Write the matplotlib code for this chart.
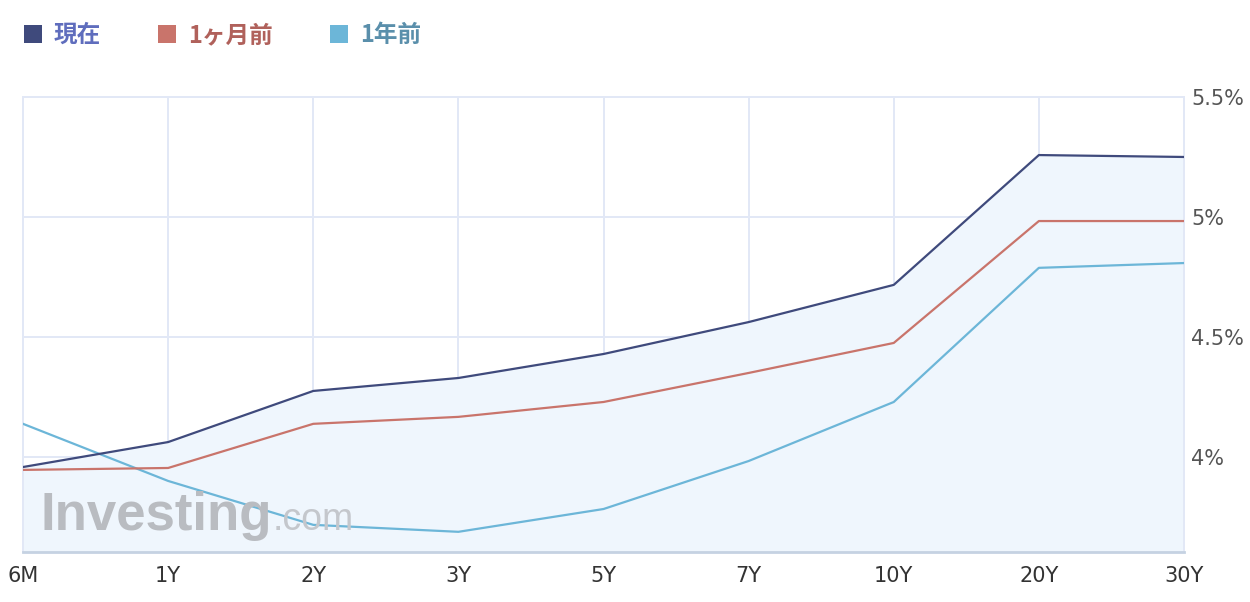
import matplotlib
matplotlib.use("Agg")
import matplotlib.pyplot as plt
from matplotlib.patches import Patch

plt.rcParams['font.family'] = ['Noto Sans CJK JP', 'DejaVu Sans']

# yield curve data (%)
maturities = ['6M', '1Y', '2Y', '3Y', '5Y', '7Y', '10Y', '20Y', '30Y']
now = [3.958, 4.062, 4.275, 4.329, 4.429, 4.562, 4.717, 5.258, 5.250]
month_ago = [3.946, 3.954, 4.138, 4.167, 4.229, 4.350, 4.475, 4.983, 4.983]
year_ago = [4.138, 3.900, 3.717, 3.688, 3.783, 3.983, 4.229, 4.788, 4.808]

series_names = ['現在', '1ヶ月前', '1年前']
line_colors = ['#3f4a7c', '#c9746b', '#6cb6d8']
text_colors = ['#5f6dbd', '#b0615b', '#5a8fab']

y_ticks = [4.0, 4.5, 5.0, 5.5]
y_labels = ['4%', '4.5%', '5%', '5.5%']

fig = plt.figure(figsize=(12.5, 6.02), dpi=100)
ax = fig.add_axes([0.0184, 0.0831, 0.9288, 0.7558])

x = list(range(len(maturities)))
ymin, ymax = 3.604, 5.5

ax.fill_between(x, now, ymin, color='#eff6fd', zorder=1)
for vals, c in zip([year_ago, month_ago, now], line_colors[::-1]):
    ax.plot(x, vals, color=c, lw=1.6, zorder=3)

ax.set_xlim(0, len(maturities) - 1)
ax.set_ylim(ymin, ymax)
ax.set_xticks(x)
ax.set_xticklabels(maturities, fontsize=15, color='#333333', family='DejaVu Sans')
ax.yaxis.tick_right()
ax.set_yticks(y_ticks)
ax.set_yticklabels(y_labels, fontsize=15, color='#555555', family='DejaVu Sans')
ax.tick_params(axis='both', length=0)
ax.tick_params(axis='x', pad=10)
ax.tick_params(axis='y', pad=5)
ax.grid(True, color='#e2e8f6', lw=1.4, zorder=0)
ax.set_axisbelow(True)
for s in ['top', 'left', 'right']:
    ax.spines[s].set_color('#e2e8f6')
    ax.spines[s].set_linewidth(1.4)
ax.spines['bottom'].set_color('#c5d2e2')
ax.spines['bottom'].set_linewidth(2)

# watermark
wm = fig.text(0.032, 0.12, 'Investing', fontsize=38, fontweight='bold',
              color='#b9bcc1', family='Liberation Sans', va='baseline', zorder=2)
fig.canvas.draw()
bb = wm.get_window_extent().transformed(fig.transFigure.inverted())
fig.text(bb.x1 + 0.001, 0.12, '.com', fontsize=27, color='#c4c7cc',
         family='Liberation Sans', va='baseline', zorder=2)

handles = [Patch(facecolor=c, edgecolor='none') for c in line_colors]
leg = fig.legend(handles, series_names, loc='upper left', bbox_to_anchor=(0.002, 0.997),
                 ncol=3, frameon=False, handlelength=0.78, handleheight=0.78,
                 handletextpad=0.5, columnspacing=2.4,
                 prop={'family': 'Noto Sans CJK JP', 'weight': 'bold', 'size': 17})
for t, c in zip(leg.get_texts(), text_colors):
    t.set_color(c)

fig.savefig('out.png', dpi=100)
